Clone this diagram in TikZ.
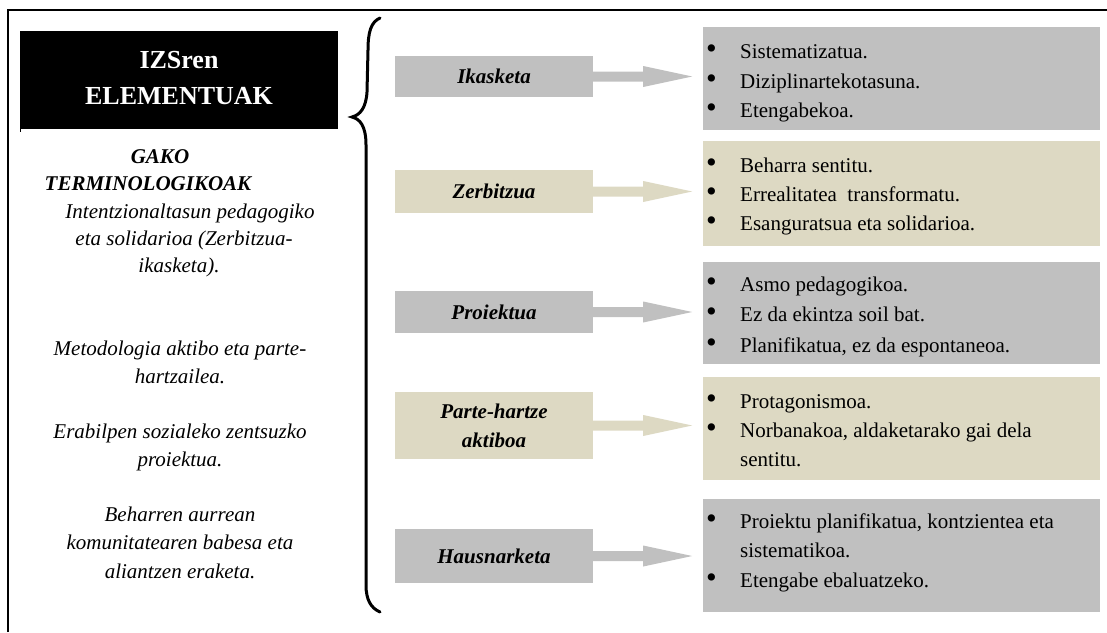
\documentclass[tikz,border=0pt]{standalone}
\usepackage{fontspec}
\setmainfont{Liberation Serif}
\usetikzlibrary{calc}
\definecolor{boxgray}{HTML}{C0C0C0}
\definecolor{boxbeige}{HTML}{DDD9C3}
\newcommand{\myfatarrow}[2]{%
  \fill[#2] ($(#1.east)+(0,-5)$) -- ++(50,0) -- ++(0,-5.5) -- ++(49,10.5)
    -- ++(-49,10.5) -- ++(0,-5.5) -- ++(-50,0) -- cycle;}
\tikzset{
  lbl/.style={rectangle, inner sep=0pt, minimum width=198pt, align=center,
    font=\bfseries\itshape\fontsize{21}{29}\selectfont},
  rbox/.style={rectangle, inner sep=0pt, minimum width=397pt, anchor=north west},
  itm/.style={anchor=base west, inner sep=0pt, font=\fontsize{21}{29}\selectfont},
  ltxt/.style={anchor=base, inner sep=0pt, font=\itshape\fontsize{21}{28}\selectfont},
  ktxt/.style={anchor=base, inner sep=0pt, font=\bfseries\itshape\fontsize{21}{28}\selectfont},
  ttxt/.style={anchor=base, inner sep=0pt, text=white, font=\bfseries\fontsize{26}{35}\selectfont},
}
\newcommand{\bul}{\makebox[34pt][l]{\raisebox{-0.8pt}{\scalebox{1.45}{\textbullet}}}}
\begin{document}
\begin{tikzpicture}[x=1pt, y=-1pt]
\useasboundingbox (0,0) rectangle (1107,632);
% frame
\draw[line width=1.5pt] (8,632) -- (8,10) -- (1107,10);
% title box
\node[fill=black, inner sep=0pt, minimum width=318pt, minimum height=98pt, anchor=north west] (title) at (20,31) {};
\draw[line width=1pt] (title.south west) -- ++(0,3);
\node[ttxt] (t1) at (179,68) {IZSren};
\node[ttxt] (t2) at (179,104) {ELEMENTUAK};
% key terms
\node[ktxt] (k1) at (160,163) {GAKO};
\node[ktxt] (k2) at (148,190) {TERMINOLOGIKOAK};
\node[ltxt] (p1a) at (190,218) {Intentzionaltasun pedagogiko};
\node[ltxt] (p1b) at (184,245) {eta solidarioa (Zerbitzua-};
\node[ltxt] (p1c) at (179,272) {ikasketa).};
\node[ltxt] (p2a) at (180,355) {Metodologia aktibo eta parte-};
\node[ltxt] (p2b) at (180,383) {hartzailea.};
\node[ltxt] (p3a) at (180,438) {Erabilpen sozialeko zentsuzko};
\node[ltxt] (p3b) at (180,466) {proiektua.};
\node[ltxt] (p4a) at (180,521) {Beharren aurrean};
\node[ltxt] (p4b) at (180,549) {komunitatearen babesa eta};
\node[ltxt] (p4c) at (180,578) {aliantzen eraketa.};
% brace
\draw[line width=3pt, line cap=round]
  (380,18) .. controls (371,22) and (368,32) .. (368,50)
  -- (367,92) .. controls (366,108) and (360,115) .. (352,117)
  .. controls (360,119) and (366,126) .. (366,145)
  -- (366,585) .. controls (366,600) and (371,608) .. (380,612);
% labels
\node[lbl, fill=boxgray, minimum height=41pt] (lk1) at (494,76.5) {Ikasketa};
\node[lbl, fill=boxbeige, minimum height=43pt] (lk2) at (494,191.5) {Zerbitzua};
\node[lbl, fill=boxgray, minimum height=42pt] (lk3) at (494,312) {Proiektua};
\node[lbl, fill=boxbeige, minimum height=67pt] (lk4) at (494,425.5) {Parte-hartze\\aktiboa};
\node[lbl, fill=boxgray, minimum height=54pt] (lk5) at (494,556) {Hausnarketa};
% right boxes
\node[rbox, fill=boxgray, minimum height=103pt] (r1) at (703,27) {};
\node[rbox, fill=boxbeige, minimum height=105pt] (r2) at (703,141) {};
\node[rbox, fill=boxgray, minimum height=102pt] (r3) at (703,262) {};
\node[rbox, fill=boxbeige, minimum height=103pt] (r4) at (703,377) {};
\node[rbox, fill=boxgray, minimum height=113pt] (r5) at (703,499) {};
% arrows
\myfatarrow{lk1}{boxgray}
\myfatarrow{lk2}{boxbeige}
\myfatarrow{lk3}{boxgray}
\myfatarrow{lk4}{boxbeige}
\myfatarrow{lk5}{boxgray}
% bullet texts
\node[itm] (r1a) at (706,58) {\bul Sistematizatua.};
\node[itm] (r1b) at (706,88) {\bul Diziplinartekotasuna.};
\node[itm] (r1c) at (706,117) {\bul Etengabekoa.};
\node[itm] (r2a) at (706,172) {\bul Beharra sentitu.};
\node[itm] (r2b) at (706,201) {\bul Errealitatea\ \ transformatu.};
\node[itm] (r2c) at (706,230) {\bul Esanguratsua eta solidarioa.};
\node[itm] (r3a) at (706,291) {\bul Asmo pedagogikoa.};
\node[itm] (r3b) at (706,321) {\bul Ez da ekintza soil bat.};
\node[itm] (r3c) at (706,352) {\bul Planifikatua, ez da espontaneoa.};
\node[itm] (r4a) at (706,408) {\bul Protagonismoa.};
\node[itm] (r4b) at (706,437) {\bul Norbanakoa, aldaketarako gai dela};
\node[itm] (r4c) at (740,466) {sentitu.};
\node[itm] (r5a) at (706,528) {\bul Proiektu planifikatua, kontzientea eta};
\node[itm] (r5b) at (740,557) {sistematikoa.};
\node[itm] (r5c) at (706,587) {\bul Etengabe ebaluatzeko.};
\end{tikzpicture}
\end{document}
